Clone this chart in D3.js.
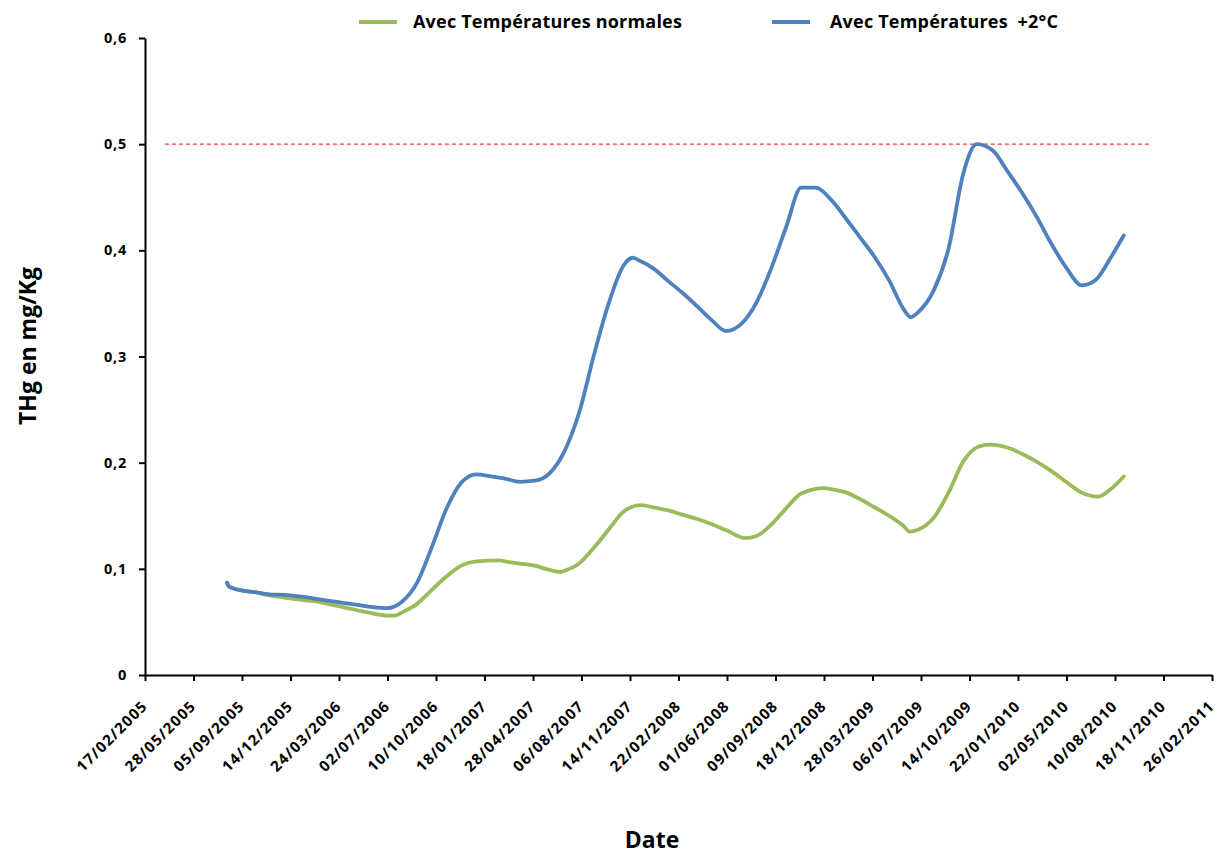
<!DOCTYPE html>
<html>
<head>
<meta charset="utf-8">
<script src="https://cdn.jsdelivr.net/npm/d3@7"></script>
<style>
  html, body { margin: 0; padding: 0; background: #fff; }
  svg { display: block; }
  text { font-family: "Open Sans", Lato, sans-serif; font-weight: bold; fill: #000; }
</style>
</head>
<body>
<svg id="chart" width="1222" height="857"></svg>
<script>
// ---- Data ----
const seriesNames = ["Avec Températures normales", "Avec Températures  +2°C"];
const seriesColors = ["#9BBB59", "#4F81BD"];

const datesNormal = [
  "2005-08-05","2005-08-10","2005-09-01","2005-10-01","2005-11-01","2005-12-01",
  "2006-01-01","2006-02-01","2006-03-01","2006-04-01","2006-05-01","2006-06-01",
  "2006-07-01","2006-07-17","2006-08-01","2006-09-01","2006-10-01","2006-11-01",
  "2006-12-01","2007-01-01","2007-02-19","2007-03-01","2007-04-01","2007-05-01",
  "2007-06-01","2007-06-23","2007-07-01","2007-08-01","2007-09-01","2007-10-01",
  "2007-11-01","2007-12-05","2008-01-01","2008-02-01","2008-03-01","2008-04-01",
  "2008-05-01","2008-06-01","2008-07-08","2008-08-01","2008-09-01","2008-10-01",
  "2008-11-01","2008-12-20","2009-01-01","2009-02-01","2009-03-01","2009-04-01",
  "2009-05-01","2009-06-01","2009-06-13","2009-07-01","2009-08-01","2009-09-01",
  "2009-10-01","2009-11-01","2009-11-25","2010-01-01","2010-02-01","2010-03-01",
  "2010-04-01","2010-05-01","2010-06-01","2010-07-06","2010-08-01","2010-08-28"
];
const valuesNormal = [
  0.087,0.083,0.080,0.078,0.075,0.073,
  0.071,0.0695,0.067,0.064,0.061,0.058,
  0.056,0.056,0.059,0.067,0.080,0.093,
  0.103,0.107,0.108,0.107,0.105,0.103,
  0.099,0.097,0.098,0.105,0.120,0.137,
  0.154,0.160,0.158,0.155,0.151,0.147,
  0.142,0.136,0.129,0.131,0.142,0.157,
  0.171,0.176,0.175,0.172,0.166,0.158,
  0.150,0.140,0.135,0.137,0.148,0.172,
  0.201,0.215,0.217,0.214,0.208,0.201,
  0.192,0.182,0.172,0.168,0.175,0.187
];

const datesPlus2 = [
  "2005-08-05","2005-08-10","2005-09-01","2005-10-01","2005-11-01","2005-12-01",
  "2006-01-01","2006-02-01","2006-03-01","2006-04-01","2006-05-01","2006-06-01",
  "2006-07-01","2006-08-01","2006-09-01","2006-10-01","2006-11-01","2006-12-01",
  "2007-01-01","2007-02-01","2007-03-01","2007-04-01","2007-05-01","2007-06-01",
  "2007-07-01","2007-08-01","2007-09-01","2007-10-01","2007-11-01","2007-11-20",
  "2007-12-01","2008-01-01","2008-02-01","2008-03-01","2008-04-01","2008-05-01",
  "2008-05-30","2008-07-01","2008-08-01","2008-09-01","2008-10-01","2008-11-01",
  "2008-12-01","2009-01-01","2009-02-01","2009-03-01","2009-04-01","2009-05-01",
  "2009-06-01","2009-06-15","2009-07-01","2009-08-01","2009-09-01","2009-10-01",
  "2009-10-29","2009-12-01","2010-01-01","2010-02-01","2010-03-01","2010-04-01",
  "2010-05-01","2010-06-03","2010-07-01","2010-08-01","2010-08-28"
];
const valuesPlus2 = [
  0.087,0.083,0.080,0.078,0.076,0.0755,
  0.074,0.072,0.070,0.068,0.066,0.064,
  0.063,0.069,0.087,0.120,0.157,0.181,
  0.189,0.187,0.185,0.182,0.183,0.190,
  0.210,0.247,0.302,0.350,0.386,0.393,
  0.391,0.383,0.371,0.360,0.347,0.334,
  0.324,0.331,0.351,0.384,0.422,0.459,
  0.459,0.448,0.430,0.413,0.394,0.372,
  0.344,0.337,0.342,0.362,0.402,0.472,
  0.500,0.494,0.474,0.453,0.432,0.406,
  0.384,0.367,0.372,0.393,0.414
];

const thresholdValue = 0.5;
const thresholdDates = ["2005-03-30", "2010-10-25"];

const xDomainDates = ["2005-02-17", "2011-02-26"];
const xTickStepDays = 100;
const yTicks = [0, 0.1, 0.2, 0.3, 0.4, 0.5, 0.6];

const yTitle = "THg en mg/Kg";
const xTitle = "Date";

// ---- Chart ----
(function () {
const parse = d3.utcParse("%Y-%m-%d");
const svg = d3.select("#chart");

const mLeft = 145, mRight = 1212, mTop = 38, mBottom = 675;

const x = d3.scaleUtc()
  .domain(xDomainDates.map(parse))
  .range([mLeft, mRight]);
const y = d3.scaleLinear().domain([0, 0.6]).range([mBottom, mTop]);

const start = parse(xDomainDates[0]);
const end = parse(xDomainDates[1]);
const xTicks = d3.utcDay.range(start, d3.utcDay.offset(end, 1), xTickStepDays);

const fmtDate = d3.utcFormat("%d/%m/%Y");
const fmtY = v => v === 0 ? "0" : d3.format(".1f")(v).replace(".", ",");

// Threshold dashed line
svg.append("line")
  .attr("x1", x(parse(thresholdDates[0])))
  .attr("x2", x(parse(thresholdDates[1])))
  .attr("y1", y(thresholdValue))
  .attr("y2", y(thresholdValue))
  .attr("stroke", "#FF3030")
  .attr("stroke-width", 1.2)
  .attr("stroke-dasharray", "4,3");

// Axes
const yAxis = svg.append("g")
  .attr("transform", `translate(${mLeft},0)`)
  .call(d3.axisLeft(y).tickValues(yTicks).tickFormat(fmtY).tickSize(6).tickSizeOuter(0).tickPadding(12));
yAxis.select(".domain").attr("stroke", "#000").attr("stroke-width", 2);
yAxis.selectAll(".tick line").attr("stroke", "#000").attr("stroke-width", 2);
yAxis.selectAll(".tick text")
  .style("font-size", "14.5px").style("font-family", "'Open Sans', sans-serif").style("font-weight", "bold")
  .style("letter-spacing", "0.8px");

const xAxis = svg.append("g")
  .attr("transform", `translate(0,${mBottom})`)
  .call(d3.axisBottom(x).tickValues(xTicks).tickFormat(fmtDate).tickSize(6).tickSizeOuter(0));
xAxis.select(".domain").attr("stroke", "#000").attr("stroke-width", 2);
xAxis.selectAll(".tick line").attr("stroke", "#000").attr("stroke-width", 2);
xAxis.selectAll(".tick text")
  .style("font-size", "15px").style("font-family", "'Open Sans', sans-serif").style("font-weight", "bold")
  .style("letter-spacing", "1.2px")
  .attr("text-anchor", "end")
  .attr("dy", null)
  .attr("y", 0)
  .attr("transform", "translate(3,32) rotate(-45)");

// Lines
const line = d3.line()
  .x(d => x(d.date))
  .y(d => y(d.value))
  .curve(d3.curveMonotoneX);

const normal = datesNormal.map((d, i) => ({ date: parse(d), value: valuesNormal[i] }));
const plus2 = datesPlus2.map((d, i) => ({ date: parse(d), value: valuesPlus2[i] }));

svg.append("path").datum(normal)
  .attr("d", line).attr("fill", "none")
  .attr("stroke", seriesColors[0]).attr("stroke-width", 3.8)
  .attr("stroke-linejoin", "round").attr("stroke-linecap", "round");

svg.append("path").datum(plus2)
  .attr("d", line).attr("fill", "none")
  .attr("stroke", seriesColors[1]).attr("stroke-width", 3.8)
  .attr("stroke-linejoin", "round").attr("stroke-linecap", "round");

// Legend
const legendPos = [{ lx: 359, tx: 413 }, { lx: 772, tx: 830 }];
seriesNames.forEach((name, i) => {
  svg.append("line")
    .attr("x1", legendPos[i].lx).attr("x2", legendPos[i].lx + 38)
    .attr("y1", 22).attr("y2", 22)
    .attr("stroke", seriesColors[i]).attr("stroke-width", 3.8);
  svg.append("text")
    .attr("x", legendPos[i].tx).attr("y", 28)
    .style("font-size", "18px")
    .style("letter-spacing", "0.2px")
    .style("white-space", "pre")
    .text(name);
});

// Axis titles
svg.append("text")
  .attr("transform", `translate(36,346) rotate(-90)`)
  .attr("text-anchor", "middle")
  .style("font-size", "23px")
  .text(yTitle);

svg.append("text")
  .attr("x", 652).attr("y", 848)
  .attr("text-anchor", "middle")
  .style("font-size", "23px")
  .text(xTitle);
})();
</script>
</body>
</html>
